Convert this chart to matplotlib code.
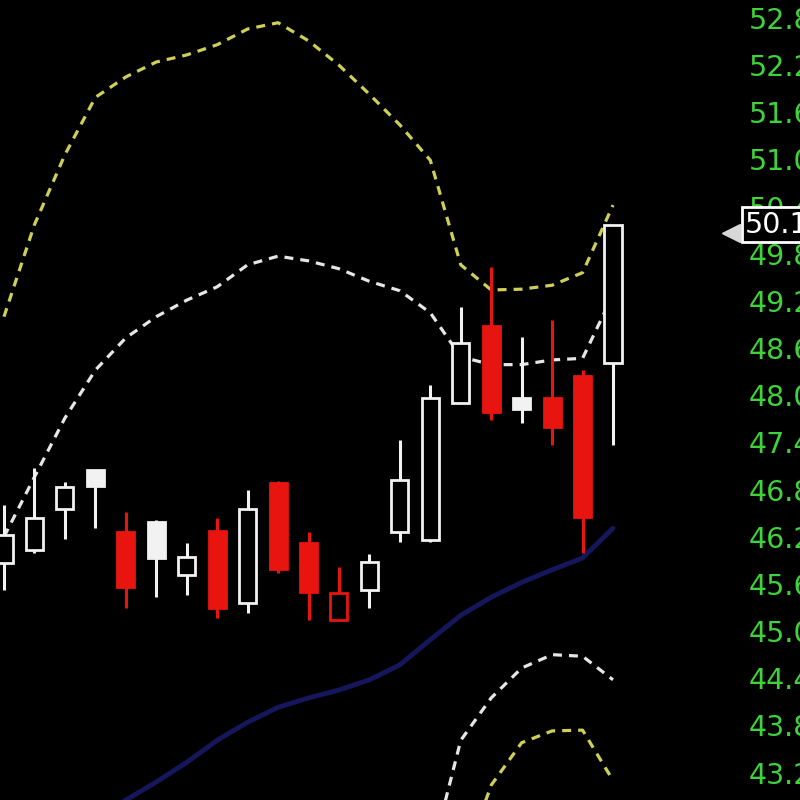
import matplotlib.pyplot as plt
import numpy as np

# candle data
opens = [45.87, 46.03, 46.55, 47.05, 46.26, 46.39, 45.71, 46.27, 45.36, 46.88, 46.12,
         45.14, 45.52, 46.26, 46.16, 47.90, 48.88, 47.97, 47.97, 48.25, 48.41]
highs = [46.60, 47.07, 46.90, 47.05, 46.51, 46.41, 46.12, 46.44, 46.79, 46.91, 46.26,
         45.82, 45.98, 47.43, 48.13, 49.12, 49.63, 48.74, 48.96, 48.32, 50.17]
lows = [45.52, 45.99, 46.17, 46.31, 45.29, 45.43, 45.46, 45.17, 45.23, 45.74, 45.14,
        45.14, 45.29, 46.13, 46.13, 47.90, 47.69, 47.65, 47.37, 45.99, 47.37]
closes = [46.22, 46.44, 46.83, 46.85, 45.56, 45.93, 45.94, 45.29, 46.55, 45.79, 45.50,
          45.48, 45.88, 46.92, 47.97, 48.67, 47.79, 47.83, 47.60, 46.45, 50.17]

nan = np.nan
upper_band = [49.00, 50.17, 51.06, 51.79, 52.05, 52.24, 52.33, 52.46, 52.66, 52.74, 52.51,
              52.20, 51.83, 51.44, 50.99, 49.66, 49.34, 49.35, 49.40, 49.56, 50.42]
middle_line = [46.20, 46.96, 47.71, 48.32, 48.73, 49.00, 49.21, 49.38, 49.66, 49.77, 49.71,
               49.61, 49.45, 49.33, 49.05, 48.49, 48.39, 48.39, 48.45, 48.47, 49.28]
lower_white = [nan] * 14 + [42.09, 43.61, 44.15, 44.53, 44.70, 44.68, 44.38]
lower_yellow = [nan] * 15 + [41.96, 43.04, 43.58, 43.73, 43.74, 43.10]
long_ma = [nan] * 3 + [42.60, 42.85, 43.08, 43.33, 43.61, 43.84, 44.03, 44.15, 44.25,
                       44.38, 44.57, 44.89, 45.20, 45.43, 45.62, 45.78, 45.93, 46.31]

price_ticks = [43.2, 43.8, 44.4, 45.0, 45.6, 46.2, 46.8, 47.4, 48.0, 48.6,
               49.2, 49.8, 50.4, 51.0, 51.6, 52.2, 52.8]

RED = '#e8140f'
WHITE = '#f2f2f2'
GREEN = '#3fd23a'
DASH = (0, (2.8, 2.2))

fig = plt.figure(figsize=(8, 8), dpi=100, facecolor='black')
ax = fig.add_axes([0, 0, 740 / 800, 1])
ax.set_facecolor('black')

x = np.arange(len(opens))

# candles: hollow when close > open, red when close < previous close
for i in x:
    prev = closes[i - 1] if i > 0 else opens[i]
    color = RED if closes[i] < prev else WHITE
    hollow = closes[i] > opens[i]
    ax.vlines(i, lows[i], highs[i], color=color, linewidth=2.2, zorder=3)
    bottom = min(opens[i], closes[i])
    height = abs(closes[i] - opens[i])
    ax.bar(i, height, bottom=bottom, width=0.56,
           facecolor='black' if hollow else color, edgecolor=color,
           linewidth=2.0, zorder=4)

# bands and averages
ax.plot(x, upper_band, color='#cfcf58', linestyle=DASH, linewidth=2.3, zorder=2)
ax.plot(x, middle_line, color='#e6e6e6', linestyle=DASH, linewidth=2.3, zorder=2)
ax.plot(x, lower_white, color='#e6e6e6', linestyle=DASH, linewidth=2.3, zorder=2)
ax.plot(x, lower_yellow, color='#cfcf58', linestyle=DASH, linewidth=2.3, zorder=2)
ax.plot(x, long_ma, color='#16165c', linewidth=3.5, zorder=2, solid_capstyle='round')

ax.set_xlim(-0.131, 24.17)
ax.set_ylim(42.851, 53.029)

# price axis on the right, cut off by the figure edge
ax.yaxis.tick_right()
ax.set_yticks(price_ticks)
ax.set_yticklabels(['%.2f' % p for p in price_ticks])
ax.tick_params(axis='y', length=0, pad=6.5, labelsize=20.5, labelcolor=GREEN)
ax.set_xticks([])
for s in ax.spines.values():
    s.set_visible(False)

# last price marker
trans = ax.get_yaxis_transform()
last = closes[-1]
ax.plot([731 / 740], [last - 0.1], marker='<', markersize=13, color='#d8d8d8',
        transform=trans, clip_on=False, zorder=9)
ax.text(745 / 740, last, '%.2f' % last, transform=trans, color='white',
        fontsize=20.5, va='center', ha='left', clip_on=False, zorder=10,
        bbox=dict(boxstyle='square,pad=0.12', facecolor='black', edgecolor='white', linewidth=2))

fig.savefig('out.png', dpi=100, facecolor='black')
